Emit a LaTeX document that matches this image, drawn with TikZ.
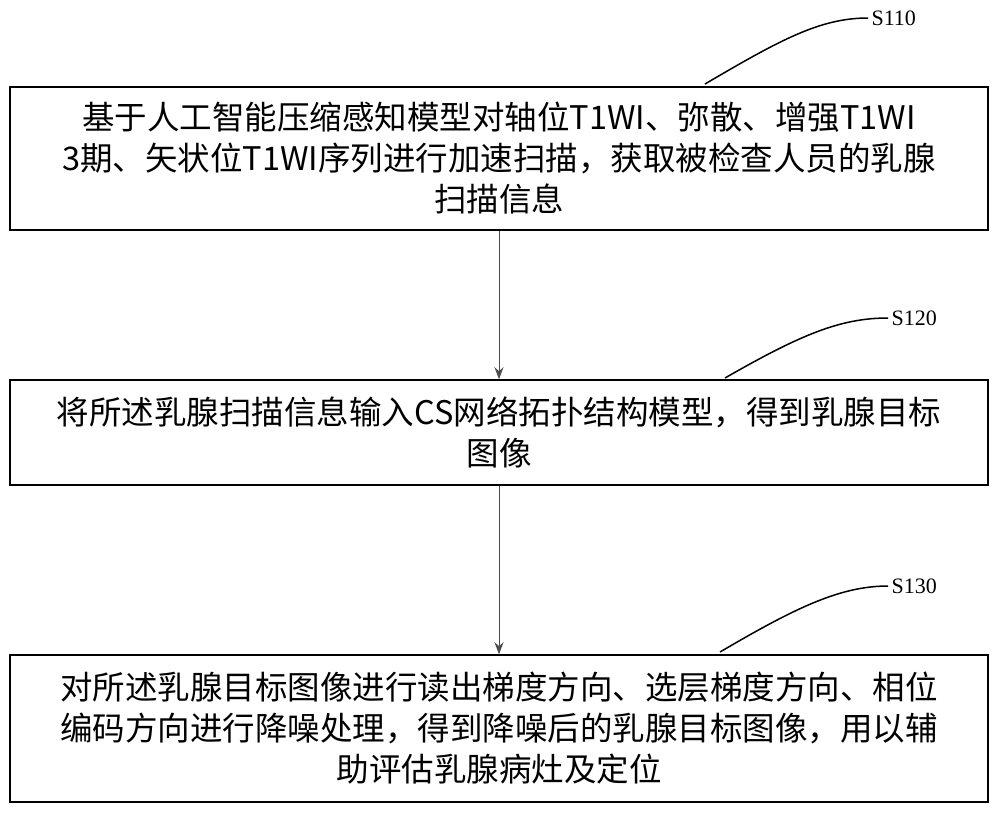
\documentclass[tikz,border=0pt]{standalone}
\usepackage{fontspec}
\setmainfont{Liberation Serif}
\newfontfamily\cjk{Noto Sans CJK SC}
\usetikzlibrary{arrows.meta}
\tikzset{stepbox/.style={draw,line width=1.5pt,minimum width=978pt,align=center,font=\cjk\fontsize{32.5}{41}\selectfont,inner sep=0pt},
lab/.style={font=\fontsize{22}{26}\selectfont,anchor=west},
lead/.style={line width=1.5pt},
flow/.style={line width=1pt,-{Stealth[length=12pt,width=9pt]},draw=black!70}}
\begin{document}
\begin{tikzpicture}[x=1pt,y=-1pt]
\useasboundingbox (0,0) rectangle (1000,812);
\node[stepbox,minimum height=143pt] (b1) at (499,158.5) {基于人工智能压缩感知模型对轴位T1WI、弥散、增强T1WI\\3期、矢状位T1WI序列进行加速扫描，获取被检查人员的乳腺\\扫描信息};
\node[stepbox,minimum height=105pt] (b2) at (499,432.5) {将所述乳腺扫描信息输入CS网络拓扑结构模型，得到乳腺目标\\图像};
\node[stepbox,minimum height=147pt] (b3) at (499,728.5) {对所述乳腺目标图像进行读出梯度方向、选层梯度方向、相位\\编码方向进行降噪处理，得到降噪后的乳腺目标图像，用以辅\\助评估乳腺病灶及定位};
\draw[flow] (b1) -- (b2);
\draw[flow] (b2) -- (b3);
\node[lab] (s1) at (868,18) {S110};
\node[lab] (s2) at (888,318) {S120};
\node[lab] (s3) at (888,586) {S130};
\coordinate (c1) at (705,84);
\coordinate (c2) at (725,378);
\coordinate (c3) at (720,652);
\draw[lead] (c1) .. controls (780,40) and (820,18) .. (s1.west);
\draw[lead] (c2) .. controls (800,335) and (840,318) .. (s2.west);
\draw[lead] (c3) .. controls (795,608) and (840,586) .. (s3.west);
\end{tikzpicture}
\end{document}
